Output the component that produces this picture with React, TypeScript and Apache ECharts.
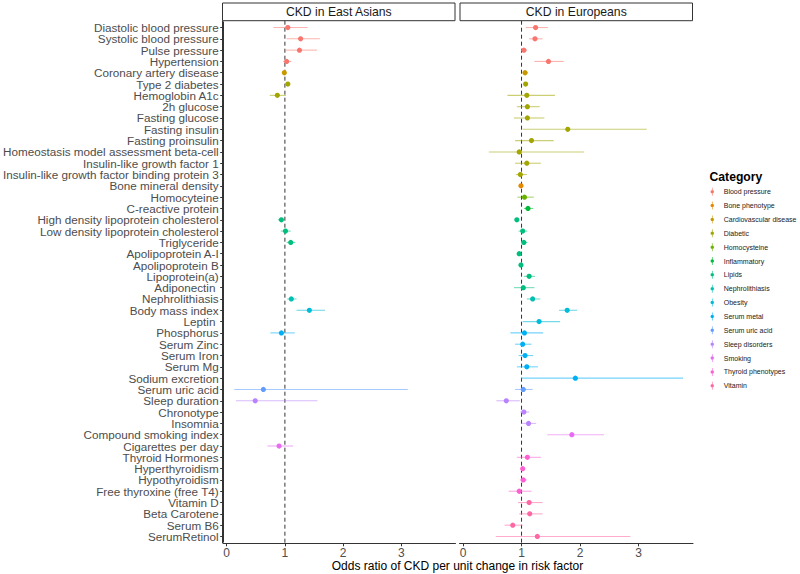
import React, { useEffect, useRef } from "react";
import * as echarts from "echarts";

const categories = [
  "Blood pressure", "Bone phenotype", "Cardiovascular disease", "Diabetic", "Homocysteine",
  "Inflammatory", "Lipids", "Nephrolithiasis", "Obesity", "Serum metal", "Serum uric acid",
  "Sleep disorders", "Smoking", "Thyroid phenotypes", "Vitamin",
];
const palette = [
  "#F8766D", "#E58700", "#C99800", "#A3A500", "#6BB100", "#00BA38", "#00BF7D", "#00C0AF",
  "#00BCD8", "#00B0F6", "#619CFF", "#B983FF", "#E76BF3", "#FD61D1", "#FF67A4",
];

const factors = [
  "Diastolic blood pressure", "Systolic blood pressure", "Pulse pressure", "Hypertension",
  "Coronary artery disease", "Type 2 diabetes", "Hemoglobin A1c", "2h glucose", "Fasting glucose",
  "Fasting insulin", "Fasting proinsulin", "Homeostasis model assessment beta-cell",
  "Insulin-like growth factor 1", "Insulin-like growth factor binding protein 3",
  "Bone mineral density", "Homocyteine", "C-reactive protein",
  "High density lipoprotein cholesterol", "Low density lipoprotein cholesterol", "Triglyceride",
  "Apolipoprotein A-I", "Apolipoprotein B", "Lipoprotein(a)", "Adiponectin ", "Nephrolithiasis",
  "Body mass index", "Leptin ", "Phosphorus", "Serum Zinc", "Serum Iron", "Serum Mg",
  "Sodium excretion", "Serum uric acid", "Sleep duration", "Chronotype", "Insomnia",
  "Compound smoking index", "Cigarettes per day", "Thyroid Hormones", "Hyperthyroidism",
  "Hypothyroidism", "Free thyroxine (free T4)", "Vitamin D", "Beta Carotene", "Serum B6",
  "SerumRetinol",
];

const factorCategory = [
  "Blood pressure", "Blood pressure", "Blood pressure", "Blood pressure",
  "Cardiovascular disease", "Diabetic", "Diabetic", "Diabetic", "Diabetic",
  "Diabetic", "Diabetic", "Diabetic", "Diabetic", "Diabetic",
  "Bone phenotype", "Homocysteine", "Inflammatory",
  "Lipids", "Lipids", "Lipids", "Lipids", "Lipids", "Lipids", "Lipids", "Nephrolithiasis",
  "Obesity", "Obesity", "Serum metal", "Serum metal", "Serum metal", "Serum metal",
  "Serum metal", "Serum uric acid", "Sleep disorders", "Sleep disorders", "Sleep disorders",
  "Smoking", "Smoking", "Thyroid phenotypes", "Thyroid phenotypes",
  "Thyroid phenotypes", "Thyroid phenotypes", "Vitamin", "Vitamin", "Vitamin", "Vitamin",
];

const N = null;
const eastAsianOR = [
  1.05, 1.27, 1.25, 1.03, 0.99, 1.05, 0.87, N, N, N, N, N, N, N, N, N, N,
  0.94, 1.01, 1.10, N, N, N, N, 1.11, 1.42, N, 0.94, N, N, N, N, 0.63, 0.49, N, N, N, 0.90,
  N, N, N, N, N, N, N, N,
];
const eastAsianLower = [
  0.80, 1.03, 1.02, 0.97, 0.97, 1.01, 0.74, N, N, N, N, N, N, N, N, N, N,
  0.88, 0.93, 1.03, N, N, N, N, 1.04, 1.20, N, 0.75, N, N, N, N, 0.13, 0.16, N, N, N, 0.70,
  N, N, N, N, N, N, N, N,
];
const eastAsianUpper = [
  1.39, 1.60, 1.55, 1.11, 1.02, 1.09, 1.02, N, N, N, N, N, N, N, N, N, N,
  0.99, 1.10, 1.18, N, N, N, N, 1.20, 1.69, N, 1.17, N, N, N, N, 3.11, 1.56, N, N, N, 1.14,
  N, N, N, N, N, N, N, N,
];

const europeanOR = [
  1.24, 1.23, 1.04, 1.46, 1.06, 1.07, 1.09, 1.10, 1.10, 1.79, 1.17, 0.96, 1.09, 0.98,
  0.99, 1.05, 1.11, 0.92, 1.02, 1.04, 0.96, 0.99, 1.13, 1.03, 1.19, 1.78, 1.30,
  1.05, 1.02, 1.06, 1.09, 1.92, 1.03, 0.74, 1.04, 1.12, 1.86, N,
  1.10, 1.02, 1.03, 0.96, 1.13, 1.14, 0.85, 1.27,
];
const europeanLower = [
  1.07, 1.13, 1.00, 1.22, 1.02, 1.05, 0.76, 0.92, 0.87, 1.02, 0.89, 0.44, 0.89, 0.90,
  0.97, 0.93, 1.04, 0.90, 0.95, 1.00, 0.93, 0.97, 1.04, 0.87, 1.09, 1.64, 1.02,
  0.81, 0.89, 0.95, 0.92, 0.99, 0.89, 0.57, 0.98, 1.01, 1.44, N,
  0.92, 0.99, 0.97, 0.78, 0.94, 0.96, 0.71, 0.56,
];
const europeanUpper = [
  1.45, 1.36, 1.09, 1.72, 1.11, 1.10, 1.57, 1.31, 1.39, 3.14, 1.55, 2.07, 1.33, 1.09,
  1.01, 1.21, 1.20, 0.95, 1.10, 1.10, 0.99, 1.01, 1.23, 1.22, 1.32, 1.95, 1.66,
  1.37, 1.17, 1.20, 1.28, 3.76, 1.19, 0.97, 1.13, 1.25, 2.41, N,
  1.33, 1.05, 1.09, 1.17, 1.36, 1.36, 1.02, 2.86,
];

const panelTitles = ["CKD in East Asians", "CKD in Europeans"];
const xTicks = [0, 1, 2, 3];
const referenceOR = 1;
const xAxisTitle = "Odds ratio of CKD per unit change in risk factor";
const legendTitle = "Category";

const FONT = "'Liberation Sans', Arial, Helvetica, sans-serif";
const EXPAND = 1.15;

function buildPanelSeries(
  panel: number,
  or: (number | null)[],
  lo: (number | null)[],
  hi: (number | null)[]
) {
  const out: any[] = [];
  categories.forEach((cat, ci) => {
    const color = palette[ci];
    const data: any[] = [];
    factors.forEach((_, fi) => {
      if (factorCategory[fi] !== cat) return;
      if (or[fi] == null) return;
      data.push([lo[fi], hi[fi], or[fi], fi]);
    });
    if (!data.length) return;
    out.push({
      type: "custom",
      name: cat,
      xAxisIndex: panel,
      yAxisIndex: panel,
      z: 3,
      itemStyle: { color },
      encode: { x: [0, 1, 2], y: 3 },
      data,
      renderItem: (params: any, api: any) => {
        const y = api.value(3);
        const a = api.coord([api.value(0), y]);
        const b = api.coord([api.value(1), y]);
        const p = api.coord([api.value(2), y]);
        return {
          type: "group",
          children: [
            {
              type: "line",
              shape: { x1: a[0], y1: a[1], x2: b[0], y2: b[1] },
              style: { stroke: color, lineWidth: 1.1, opacity: 0.55 },
            },
            {
              type: "circle",
              shape: { cx: p[0], cy: p[1], r: 2.6 },
              style: { fill: color },
            },
          ],
        };
      },
    });
  });
  return out;
}

function refLineSeries(panel: number) {
  return {
    type: "custom",
    xAxisIndex: panel,
    yAxisIndex: panel,
    z: 2,
    encode: { x: 0, y: 1 },
    data: [[referenceOR, 0]],
    renderItem: (params: any, api: any) => {
      const cs = params.coordSys;
      const x = api.coord([api.value(0), 0])[0];
      return {
        type: "line",
        shape: { x1: x, y1: cs.y - EXPAND, x2: x, y2: cs.y + cs.height + EXPAND },
        style: { stroke: "#333333", lineWidth: 1, lineDash: [4, 3] },
      };
    },
  };
}

export default function App() {
  const ref = useRef<HTMLDivElement>(null);
  useEffect(() => {
    if (!ref.current) return;
    const chart = echarts.init(ref.current, undefined, { renderer: "svg" });
    const stripBottom = 20.7;
    const gridTop = stripBottom + EXPAND;
    const gridHeight = 543.3 - EXPAND - gridTop;
    const panelW = 233.5;
    const panelLefts = [222, 459.5];

    const xAxes = panelLefts.map((_, i) => ({
      type: "value",
      gridIndex: i,
      min: -0.06,
      max: 3.93,
      offset: EXPAND,
      splitLine: { show: false },
      axisLine: { show: true, lineStyle: { color: "#333333", width: 1 } },
      axisTick: { show: true, length: 3, customValues: xTicks, lineStyle: { color: "#333333" } },
      axisLabel: {
        customValues: xTicks,
        fontSize: 12,
        color: "#4D4D4D",
        fontFamily: FONT,
        margin: 4,
      },
    }));
    const yAxes = panelLefts.map((_, i) => ({
      type: "category",
      gridIndex: i,
      inverse: true,
      boundaryGap: true,
      data: factors,
      splitLine: { show: false },
      axisLine: { show: i === 0, onZero: false, lineStyle: { color: "#333333", width: 1 } },
      axisTick: {
        show: i === 0,
        length: 3,
        alignWithLabel: true,
        interval: 0,
        lineStyle: { color: "#333333" },
      },
      axisLabel: {
        show: i === 0,
        interval: 0,
        fontSize: 11.7,
        color: "#4D4D4D",
        fontFamily: FONT,
        margin: 4.5,
      },
    }));

    const graphics: any[] = [];
    panelLefts.forEach((l, i) => {
      graphics.push({
        type: "rect",
        shape: { x: l + 0.5, y: 3, width: panelW - 1, height: stripBottom - 3 },
        style: { fill: "#FFFFFF", stroke: "#333333", lineWidth: 1 },
      });
      graphics.push({
        type: "text",
        x: l + panelW / 2,
        y: (3 + stripBottom) / 2 + 0.5,
        style: {
          text: panelTitles[i],
          fontSize: 12.2,
          fontFamily: FONT,
          fill: "#1A1A1A",
          align: "center",
          verticalAlign: "middle",
          textAlign: "center",
          textVerticalAlign: "middle",
        },
      });
    });
    // left axis line extension to match the panel's full height
    graphics.push({
      type: "line",
      shape: { x1: 222.5, y1: stripBottom, x2: 222.5, y2: 543.3 },
      style: { stroke: "#333333", lineWidth: 1 },
    });
    graphics.push({
      type: "text",
      x: 457.5,
      y: 566,
      style: {
        text: xAxisTitle,
        fontSize: 12,
        fontFamily: FONT,
        fill: "#000000",
        align: "center",
        verticalAlign: "middle",
        textAlign: "center",
        textVerticalAlign: "middle",
      },
    });
    graphics.push({
      type: "text",
      x: 709.5,
      y: 176.5,
      style: {
        text: legendTitle,
        fontSize: 12.2,
        fontWeight: "bold",
        fontFamily: FONT,
        fill: "#000000",
        align: "left",
        verticalAlign: "middle",
        textAlign: "left",
        textVerticalAlign: "middle",
      },
    });

    chart.setOption({
      animation: false,
      backgroundColor: "#FFFFFF",
      grid: panelLefts.map((l) => ({
        left: l,
        width: panelW,
        top: gridTop,
        height: gridHeight,
        containLabel: false,
      })),
      xAxis: xAxes,
      yAxis: yAxes,
      legend: {
        orient: "vertical",
        left: 710.5,
        top: 187.7,
        padding: 0,
        itemWidth: 5,
        itemHeight: 8,
        itemGap: 5.86,
        selectedMode: false,
        icon: "path://M4.4,0h1.2v16h-1.2z M1.5,8A3.5,3.5 0 1,1 8.5,8A3.5,3.5 0 1,1 1.5,8Z",
        textStyle: {
          fontSize: 7,
          lineHeight: 8,
          color: "#222222",
          fontFamily: FONT,
          padding: [0, 0, 0, 4],
        },
        data: categories,
      },
      graphic: graphics,
      series: [
        refLineSeries(0),
        refLineSeries(1),
        ...buildPanelSeries(0, eastAsianOR, eastAsianLower, eastAsianUpper),
        ...buildPanelSeries(1, europeanOR, europeanLower, europeanUpper),
      ],
    });
    return () => chart.dispose();
  }, []);
  return (
    <div
      ref={ref}
      style={{ position: "fixed", left: 0, top: 0, width: 800, height: 574, background: "#fff" }}
    />
  );
}
